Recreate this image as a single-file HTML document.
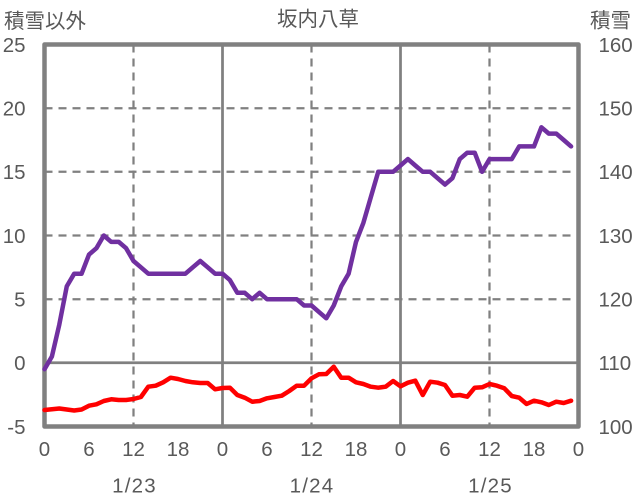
<!DOCTYPE html>
<html><head><meta charset="utf-8"><style>
html,body{margin:0;padding:0;background:#fff;}
svg{display:block;}
text{font-family:"Liberation Sans","Noto Sans CJK JP",sans-serif;fill:#595959;}
</style></head><body>
<svg width="636" height="501" viewBox="0 0 636 501" xmlns="http://www.w3.org/2000/svg">
<rect width="636" height="501" fill="#fff"/>
<!-- grid -->
<g stroke="#808080" stroke-width="2.25" stroke-dasharray="8 6" fill="none">
<line x1="44.5" y1="108.2" x2="578.5" y2="108.2"/>
<line x1="44.5" y1="171.8" x2="578.5" y2="171.8"/>
<line x1="44.5" y1="235.5" x2="578.5" y2="235.5"/>
<line x1="44.5" y1="299.2" x2="578.5" y2="299.2"/>
<line x1="133.5" y1="44.5" x2="133.5" y2="426.5"/>
<line x1="311.5" y1="44.5" x2="311.5" y2="426.5"/>
<line x1="489.5" y1="44.5" x2="489.5" y2="426.5"/>
</g>
<g stroke="#808080" stroke-width="2.75" fill="none">
<line x1="44.5" y1="362.8" x2="578.5" y2="362.8"/>
<line x1="222.5" y1="44.5" x2="222.5" y2="426.5"/>
<line x1="400.5" y1="44.5" x2="400.5" y2="426.5"/>
</g>
<rect x="44.5" y="44.5" width="534" height="382" fill="none" stroke="#808080" stroke-width="4.5" stroke-linejoin="round"/>
<!-- series -->
<polyline fill="none" stroke="#FF0000" stroke-width="4.5" stroke-linejoin="round" stroke-linecap="round" points="
44.5,410 51.9,409.3 59.3,408.5 66.75,409.5 74.2,410.5 81.6,409.5 89,405.7 96.4,404.3 103.8,401 111.25,399.3 118.7,400 126.1,400 133.5,399 140.9,397 148.3,386.7 155.75,385.7 163.2,382.3 170.6,377.7 178,379 185.4,381 192.8,382.3 200.25,383 207.7,383 215.1,389.3 222.5,388 229.9,387.7 237.3,395 244.75,397.7 252.2,401.7 259.6,401 267,398.3 274.4,397 281.8,395.7 289.25,391 296.7,385.7 304.1,385.7 311.5,378.3 318.9,374.3 326.3,374 333.75,366.7 341.2,377.7 348.6,377.7 356,382.3 363.4,384 370.8,386.7 378.25,387.7 385.7,386.7 393.1,381 400.5,386.3 407.9,382.7 415.3,380.7 422.75,395 430.2,381.7 437.6,382.7 445,385 452.4,395.7 459.8,395 467.25,396.7 474.7,387.7 482.1,387.3 489.5,384 496.9,385.7 504.3,388.3 511.75,396 519.2,397.7 526.6,404 534,400.7 541.4,402.3 548.8,405 556.25,401.7 563.7,403 571.1,400.7"/>
<polyline fill="none" stroke="#7030A0" stroke-width="4.5" stroke-linejoin="round" stroke-linecap="round" points="
44.5,369.2 51.9,356.5 59.3,324.6 66.75,286.4 74.2,273.7 81.6,273.7 89,254.6 96.4,248.2 103.8,235.5 111.25,241.9 118.7,241.9 126.1,248.2 133.5,261 140.9,267.3 148.3,273.7 155.75,273.7 163.2,273.7 170.6,273.7 178,273.7 185.4,273.7 192.8,267.3 200.25,261 207.7,267.3 215.1,273.7 222.5,273.7 229.9,280.1 237.3,292.8 244.75,292.8 252.2,299.2 259.6,292.8 267,299.2 274.4,299.2 281.8,299.2 289.25,299.2 296.7,299.2 304.1,305.5 311.5,305.5 318.9,311.9 326.3,318.3 333.75,305.5 341.2,286.4 348.6,273.7 356,241.9 363.4,222.8 370.8,197.3 378.25,171.8 385.7,171.8 393.1,171.8 400.5,165.5 407.9,159.1 415.3,165.5 422.75,171.8 430.2,171.8 437.6,178.2 445,184.6 452.4,178.2 459.8,159.1 467.25,152.7 474.7,152.7 482.1,171.8 489.5,159.1 496.9,159.1 504.3,159.1 511.75,159.1 519.2,146.4 526.6,146.4 534,146.4 541.4,127.3 548.8,133.6 556.25,133.6 563.7,140 571.1,146.4"/>
<!-- titles -->
<text x="4" y="28" font-size="20.5">積雪以外</text>
<text x="318" y="26" font-size="20.5" text-anchor="middle">坂内八草</text>
<text x="590" y="27.5" font-size="20.5">積雪</text>
<!-- left axis -->
<g font-size="20.5" text-anchor="end">
<text x="25.5" y="51.8">25</text>
<text x="25.5" y="115.5">20</text>
<text x="25.5" y="179.1">15</text>
<text x="25.5" y="242.8">10</text>
<text x="25.5" y="306.5">5</text>
<text x="25.5" y="370.1">0</text>
<text x="25.5" y="433.8">-5</text>
</g>
<!-- right axis -->
<g font-size="20.5" text-anchor="start">
<text x="598.5" y="51.8">160</text>
<text x="598.5" y="115.5">150</text>
<text x="598.5" y="179.1">140</text>
<text x="598.5" y="242.8">130</text>
<text x="598.5" y="306.5">120</text>
<text x="598.5" y="370.1">110</text>
<text x="598.5" y="433.8">100</text>
</g>
<!-- x axis -->
<g font-size="20.5" text-anchor="middle">
<text x="44.5" y="455.8">0</text>
<text x="89" y="455.8">6</text>
<text x="133.5" y="455.8">12</text>
<text x="178" y="455.8">18</text>
<text x="222.5" y="455.8">0</text>
<text x="267" y="455.8">6</text>
<text x="311.5" y="455.8">12</text>
<text x="356" y="455.8">18</text>
<text x="400.5" y="455.8">0</text>
<text x="445" y="455.8">6</text>
<text x="489.5" y="455.8">12</text>
<text x="534" y="455.8">18</text>
<text x="578.5" y="455.8">0</text>
</g>
<g font-size="20.5" text-anchor="middle" letter-spacing="1.2">
<text x="134.5" y="492.5">1/23</text>
<text x="312" y="492.5">1/24</text>
<text x="490.5" y="492.5">1/25</text>
</g>
</svg>
</body></html>
